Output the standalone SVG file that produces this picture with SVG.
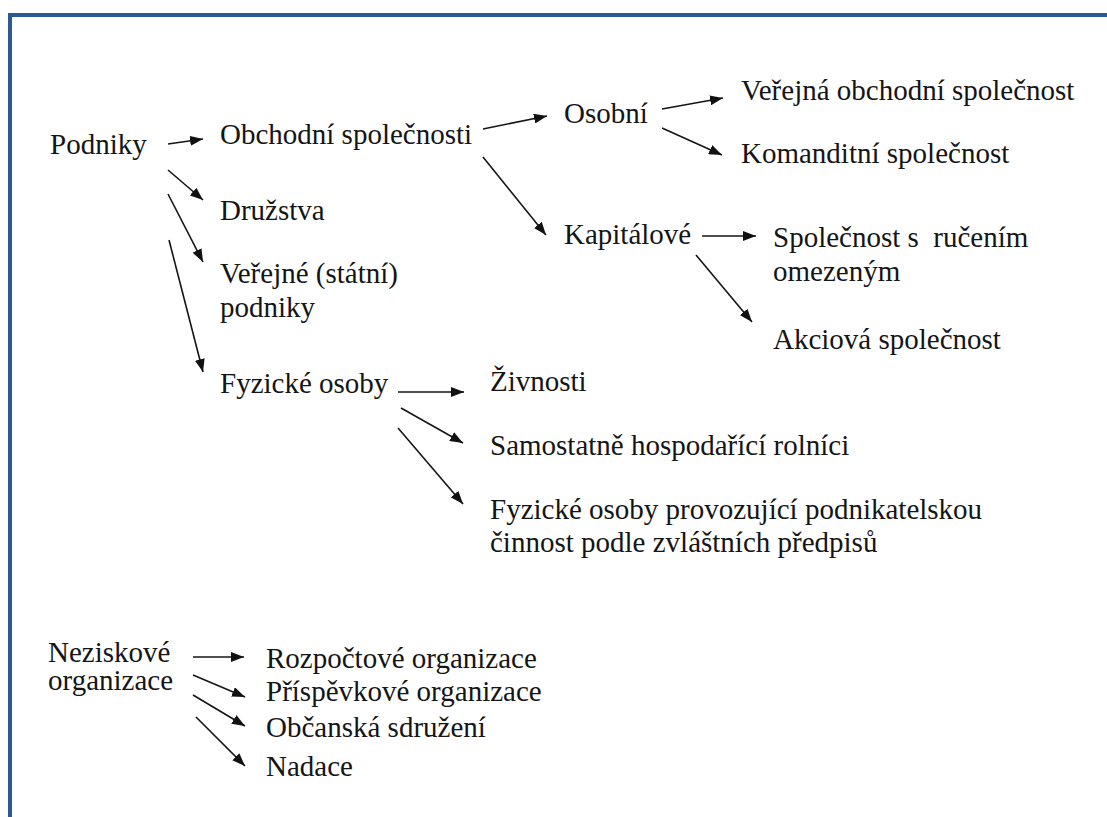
<svg xmlns="http://www.w3.org/2000/svg" width="1107" height="817" viewBox="0 0 1107 817">
<defs>
<marker id="ah" markerUnits="userSpaceOnUse" markerWidth="14" markerHeight="10" refX="13" refY="5" orient="auto">
<path d="M0,0 L13,5 L0,10 z" fill="#111"/>
</marker>
<style>
text{font-size:29px;fill:#151515;white-space:pre}
.c line{stroke:#151515;stroke-width:1.6;marker-end:url(#ah)}
.frame{fill:#2c5a92}
</style>
</defs>
<rect width="1107" height="817" fill="#fff"/>
<g id="frame">
<rect class="frame" x="8" y="13" width="1099" height="4"/>
<rect class="frame" x="8" y="13" width="4" height="804"/>
</g>
<g id="podniky"><text font-family="'Liberation Serif', serif" x="50" y="154">Podniky</text></g>
<g id="obchodni"><text font-family="'Liberation Serif', serif" x="220" y="144">Obchodní společnosti</text></g>
<g id="osobni"><text font-family="'Liberation Serif', serif" x="564" y="123">Osobní</text></g>
<g id="vos"><text font-family="'Liberation Serif', serif" x="741" y="100">Veřejná obchodní společnost</text></g>
<g id="ks"><text font-family="'Liberation Serif', serif" x="741" y="163">Komanditní společnost</text></g>
<g id="kapitalove"><text font-family="'Liberation Serif', serif" x="564" y="244">Kapitálové</text></g>
<g id="sro"><text font-family="'Liberation Serif', serif" x="773" y="247">Společnost s  ručením</text><text font-family="'Liberation Serif', serif" x="773" y="281">omezeným</text></g>
<g id="as"><text font-family="'Liberation Serif', serif" x="773" y="349">Akciová společnost</text></g>
<g id="druzstva"><text font-family="'Liberation Serif', serif" x="220" y="220">Družstva</text></g>
<g id="verejne"><text font-family="'Liberation Serif', serif" x="220" y="283">Veřejné (státní)</text><text font-family="'Liberation Serif', serif" x="220" y="317">podniky</text></g>
<g id="fyzicke"><text font-family="'Liberation Serif', serif" x="220" y="393">Fyzické osoby</text></g>
<g id="zivnosti"><text font-family="'Liberation Serif', serif" x="490" y="391">Živnosti</text></g>
<g id="rolnici"><text font-family="'Liberation Serif', serif" x="490" y="455">Samostatně hospodařící rolníci</text></g>
<g id="fop"><text font-family="'Liberation Serif', serif" x="490" y="519">Fyzické osoby provozující podnikatelskou</text><text font-family="'Liberation Serif', serif" x="490" y="552">činnost podle zvláštních předpisů</text></g>
<g id="neziskove"><text font-family="'Liberation Serif', serif" x="48" y="662">Neziskové</text><text font-family="'Liberation Serif', serif" x="48" y="690">organizace</text></g>
<g id="rozpoctove"><text font-family="'Liberation Serif', serif" x="266" y="668">Rozpočtové organizace</text></g>
<g id="prispevkove"><text font-family="'Liberation Serif', serif" x="266" y="701">Příspěvkové organizace</text></g>
<g id="obcanska"><text font-family="'Liberation Serif', serif" x="266" y="737">Občanská sdružení</text></g>
<g id="nadace"><text font-family="'Liberation Serif', serif" x="266" y="776">Nadace</text></g>
<g id="connectors" class="c">
<line x1="168" y1="144" x2="203" y2="139"/>
<line x1="168" y1="170" x2="203" y2="200"/>
<line x1="168" y1="194" x2="203" y2="262"/>
<line x1="169" y1="240" x2="203" y2="372"/>
<line x1="483" y1="129" x2="547" y2="116"/>
<line x1="483" y1="157" x2="546" y2="235"/>
<line x1="662" y1="109" x2="723" y2="98"/>
<line x1="662" y1="128" x2="722" y2="155"/>
<line x1="702" y1="236" x2="756" y2="236"/>
<line x1="696" y1="255" x2="752" y2="322"/>
<line x1="398" y1="392" x2="464" y2="392"/>
<line x1="401" y1="408" x2="463" y2="443"/>
<line x1="398" y1="428" x2="463" y2="504"/>
<line x1="193" y1="657" x2="244" y2="657"/>
<line x1="193" y1="675" x2="245" y2="697"/>
<line x1="193" y1="695" x2="245" y2="726"/>
<line x1="196" y1="717" x2="245" y2="766"/>
</g>
</svg>
